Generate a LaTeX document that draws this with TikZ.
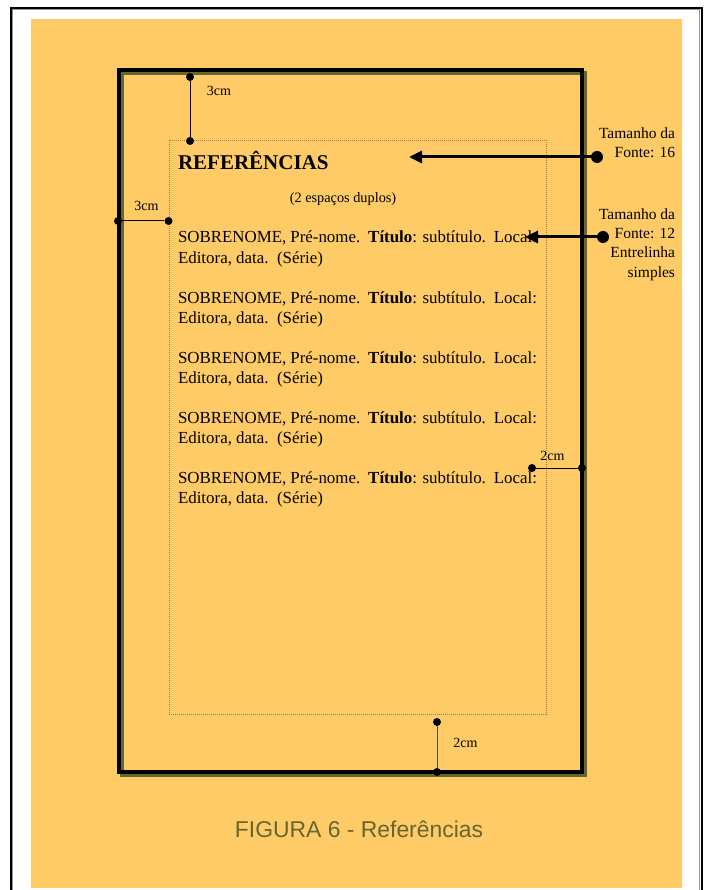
\documentclass[tikz,border=0pt]{standalone}
\usepackage{fontspec}
\setmainfont{Liberation Serif}
\newfontfamily\capfont{Liberation Sans}
\usetikzlibrary{arrows.meta}
\definecolor{bgorange}{RGB}{254,203,102}
\definecolor{olive}{RGB}{102,102,51}
\definecolor{dotbrown}{RGB}{160,125,80}
\definecolor{framegrey}{RGB}{150,150,150}
\tikzset{
  txt/.style={inner sep=0pt, outer sep=0pt},
  dimdot/.style={circle, fill=black, inner sep=0pt, minimum size=8pt},
  bigdot/.style={circle, fill=black, inner sep=0pt, minimum size=12pt},
  dimline/.style={line width=1pt},
  pointer/.style={line width=3pt, -{Triangle[length=13pt,width=12pt]}},
  dimlabel/.style={txt, font=\fontsize{14}{16}\selectfont},
  sidelabel/.style={txt, anchor=base east, font=\fontsize{15.5}{18}\selectfont},
  entryfont/.style={txt, anchor=base west, font=\fontsize{16.9}{20}\selectfont},
}
\begin{document}
\begin{tikzpicture}[x=1pt,y=-1pt]
\useasboundingbox (0,0) rectangle (709,890);
\fill[white] (0,0) rectangle (709,890);
% outer frame
\draw[framegrey, line width=1.2pt] (12.5,895) -- (12.5,9.7) -- (699.5,9.7) -- (699.5,895);
\draw[black, line width=1.6pt] (10.8,895) -- (10.8,8) -- (701.7,8) -- (701.7,895);
% orange background
\fill[bgorange] (31,19) rectangle (682,888);
% page shadow and page
\draw[olive, line width=4pt] (121.5,73) rectangle (584.7,774.7);
\draw[black, line width=4pt] (118.5,70) rectangle (581.7,771.7);
% text area
\draw[dotbrown, line width=0.8pt, dash pattern=on 1pt off 1pt] (169,140) rectangle (546,714);
% top 3cm
\node[dimdot] (t1) at (190,77) {};
\node[dimdot] (t2) at (190,141) {};
\draw[dimline] (t1) -- (t2);
\node[dimlabel, anchor=base] (lt) at (219,96) {3cm};
% left 3cm
\node[dimdot] (l1) at (118,221) {};
\node[dimdot] (l2) at (168.5,221) {};
\draw[dimline] (l1) -- (l2);
\node[dimlabel, anchor=base] (ll) at (146.5,211) {3cm};
% right 2cm
\node[dimdot] (r1) at (532,468) {};
\node[dimdot] (r2) at (582,468) {};
\draw[dimline] (r1) -- (r2);
\node[dimlabel, anchor=base] (lr) at (552.5,460) {2cm};
% bottom 2cm
\node[dimdot] (b1) at (437,722) {};
\node[dimdot] (b2) at (437,772) {};
\draw[dimline, olive!80!black] (b1) -- (b2);
\node[dimlabel, anchor=base] (lb) at (465.5,747) {2cm};
% heading
\node[txt, anchor=base west, font=\fontsize{21}{24}\selectfont\bfseries] (head) at (178,170) {REFERÊNCIAS};
\node[txt, anchor=base, font=\fontsize{14.3}{16}\selectfont] (sub) at (343,203) {(2 espaços duplos)};
% entries
\foreach \y [count=\i] in {243,303,363,423,483} {
  \node[entryfont] (e\i a) at (178,\y) {\makebox[359pt][s]{SOBRENOME, Pré-nome.\ \ \textbf{Título}: subtítulo.\ \ Local:}};
  \node[entryfont] (e\i b) at (178,\y+20) {Editora, data.\ \ (Série)};
}
% side labels
\node[sidelabel] (s1) at (675,139) {Tamanho da};
\node[sidelabel] (s2) at (675,158) {Fonte: 16};
\node[sidelabel] (s3) at (675,220) {Tamanho da};
\node[sidelabel] (s4) at (675,239) {Fonte: 12};
\node[sidelabel] (s5) at (675,258) {Entrelinha};
\node[sidelabel] (s6) at (675,277) {simples};
% pointers
\node[bigdot] (p1) at (597,157) {};
\coordinate (q1) at (409,157);
\draw[pointer] (p1.center) -- (q1);
\node[bigdot] (p2) at (603,237) {};
\coordinate (q2) at (525,237);
\draw[pointer] (p2.center) -- (q2);
% caption
\node[txt, anchor=base, text=olive, font=\capfont\fontsize{22.9}{26}\selectfont] (cap) at (359,837) {FIGURA 6 - Referências};
\end{tikzpicture}
\end{document}
